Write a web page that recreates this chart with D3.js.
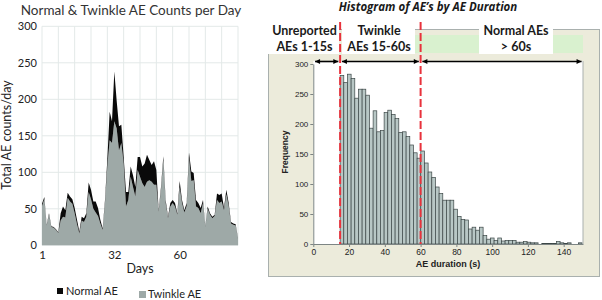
<!DOCTYPE html>
<html>
<head>
<meta charset="utf-8">
<script src="https://cdn.jsdelivr.net/npm/d3@7"></script>
<style>
  body { margin: 0; background: #fff; }
  svg { display: block; }
  .lato { font-family: Lato, "Open Sans", sans-serif; }
  .tah { font-family: "Liberation Sans", Arial, sans-serif; }
</style>
</head>
<body>
<div id="chart"></div>
<script>
// ---- left chart: daily counts ----
var days = d3.range(1, 86);
var totalCounts = [57, 66, 28, 44, 26, 25, 22, 18, 44, 53, 48, 72, 67, 63, 51, 35, 19, 39, 37, 44,
  86, 76, 60, 60, 51, 35, 23, 62, 118, 183, 170, 238, 198, 163, 165, 121, 73, 73, 108, 96,
  80, 121, 121, 108, 112, 124, 117, 110, 115, 103, 48, 80, 122, 62, 39, 58, 62, 58, 44, 88,
  62, 48, 58, 127, 101, 99, 62, 58, 51, 62, 26, 53, 44, 39, 42, 71, 69, 71, 51, 76,
  58, 32, 30, 29, 10];
var twinkleCounts = [54, 63, 27, 42, 25, 24, 21, 17, 34, 39, 38, 65, 60, 57, 44, 29, 16, 34, 32, 39,
  73, 63, 50, 45, 40, 30, 21, 58, 108, 144, 140, 170, 160, 130, 140, 112, 53, 62, 94, 80,
  67, 103, 94, 85, 80, 87, 89, 87, 83, 83, 46, 76, 117, 58, 37, 53, 58, 53, 42, 80,
  58, 45, 54, 120, 88, 89, 53, 51, 44, 58, 25, 50, 42, 37, 40, 62, 58, 60, 48, 70,
  54, 30, 28, 27, 9];
var dayTicks = [1, 32, 60];
var countTicks = [0, 50, 100, 150, 200, 250, 300];

// ---- right chart: histogram of durations ----
var binStart = 15, binWidth = 2.05;
var binCounts = [281, 269, 283, 276, 243, 258, 258, 248, 193, 222, 187, 189, 219, 223, 216, 209,
  186, 187, 179, 165, 152, 143, 155, 135, 120, 111, 95, 84, 73, 73, 73, 58, 46, 41, 40, 25,
  28, 23, 28, 14, 8, 10, 6, 10, 5, 6, 6, 6, 3, 3, 4, 3, 2, 2, 0, 1, 1, 1, 1, 4, 2, 1, 2, 0, 0, 2];
var durTicks = [0, 20, 40, 60, 80, 100, 120, 140];
var freqTicks = [0, 50, 100, 150, 200, 250, 300];
var cutoffs = [15, 60];

var svg = d3.select("#chart").append("svg")
    .attr("width", 602)
    .attr("height", 300);

/* left panel */
var data = days.map(function(d, i) {
  return { day: d, twinkle: twinkleCounts[i], normal: totalCounts[i] - twinkleCounts[i] };
});

var x = d3.scaleLinear().domain([1, 85]).range([42, 238]);
var y = d3.scaleLinear().domain([0, 300]).range([245.3, 26.3]);

var left = svg.append("g").attr("class", "lato");

// gridlines
left.append("g")
    .selectAll("line.h")
    .data(countTicks)
  .enter().append("line")
    .attr("x1", x(1)).attr("x2", x(85))
    .attr("y1", d => y(d)).attr("y2", d => y(d))
    .attr("stroke", "#e3e9e8").attr("stroke-width", 1);

left.append("g")
    .selectAll("line.v")
    .data(d3.range(1, 86, 7))
  .enter().append("line")
    .attr("x1", d => x(d)).attr("x2", d => x(d))
    .attr("y1", y(300)).attr("y2", y(0))
    .attr("stroke", "#e3e9e8").attr("stroke-width", 1);

var series = d3.stack().keys(["twinkle", "normal"])(data);
var area = d3.area()
    .x(d => x(d.data.day))
    .y0(d => y(d[0]))
    .y1(d => y(d[1]));

left.selectAll("path.area")
    .data(series)
  .enter().append("path")
    .attr("d", area)
    .attr("fill", (d, i) => i === 0 ? "#9ea9a7" : "#0a0a0a");

// axes
var yAxis = d3.axisLeft(y).tickValues(countTicks).tickSize(0).tickPadding(5);
left.append("g")
    .attr("transform", "translate(" + x(1) + ",0)")
    .call(yAxis)
    .call(g => g.select(".domain").remove())
    .selectAll("text")
    .attr("font-family", "Lato, sans-serif")
    .attr("font-size", 11)
    .attr("fill", "#222");

var xAxis = d3.axisBottom(x).tickValues(dayTicks).tickSize(0).tickPadding(6);
left.append("g")
    .attr("transform", "translate(0," + y(0) + ")")
    .call(xAxis)
    .call(g => g.select(".domain").remove())
    .selectAll("text")
    .attr("font-family", "Lato, sans-serif")
    .attr("font-size", 11.5)
    .attr("fill", "#222");

left.append("text")
    .attr("x", 131).attr("y", 15)
    .attr("text-anchor", "middle")
    .attr("font-size", 13.5)
    .attr("fill", "#333")
    .text("Normal & Twinkle AE Counts per Day");

left.append("text")
    .attr("transform", "translate(11,135) rotate(-90)")
    .attr("text-anchor", "middle")
    .attr("font-size", 12.5)
    .attr("fill", "#222")
    .text("Total AE counts/day");

left.append("text")
    .attr("x", 140).attr("y", 273)
    .attr("text-anchor", "middle")
    .attr("font-size", 12.5)
    .attr("fill", "#222")
    .text("Days");

// legend
left.append("rect").attr("x", 57).attr("y", 288).attr("width", 6).attr("height", 6).attr("fill", "#0a0a0a");
left.append("text").attr("x", 66).attr("y", 295).attr("font-size", 11).attr("fill", "#222").text("Normal AE");
left.append("rect").attr("x", 139).attr("y", 291).attr("width", 7).attr("height", 7).attr("fill", "#9ea9a7");
left.append("text").attr("x", 148).attr("y", 298).attr("font-size", 11).attr("fill", "#222").text("Twinkle AE");

/* right panel */
var hx = d3.scaleLinear().domain([0, 150.8]).range([313.3, 583]);
var hy = d3.scaleLinear().domain([0, 300]).range([244, 64]);

var right = svg.append("g");

right.append("rect")
    .attr("x", 268.5).attr("y", 29.5).attr("width", 331).attr("height", 247)
    .attr("fill", "#ecebdb").attr("stroke", "#a9b0ae");

// label boxes
right.append("rect").attr("x", 262).attr("y", 16).attr("width", 77).attr("height", 38).attr("fill", "#fff");
right.append("rect").attr("x", 342).attr("y", 16).attr("width", 73).attr("height", 38).attr("fill", "#fff");
right.append("rect").attr("x", 415).attr("y", 35).attr("width", 168).attr("height", 18).attr("fill", "#d9f1cf");
right.append("rect").attr("x", 479).attr("y", 22).attr("width", 74).attr("height", 32).attr("fill", "#fff");

// plot area
right.append("rect")
    .attr("x", hx(0)).attr("y", 61)
    .attr("width", 583 - hx(0)).attr("height", hy(0) - 61)
    .attr("fill", "#fff");

right.append("g")
    .selectAll("rect.bar")
    .data(binCounts)
  .enter().append("rect")
    .attr("x", (d, i) => hx(binStart + i * binWidth))
    .attr("y", d => hy(d))
    .attr("width", (d, i) => hx(binStart + (i + 1) * binWidth) - hx(binStart + i * binWidth))
    .attr("height", d => hy(0) - hy(d))
    .attr("fill", "#b8c7c5")
    .attr("stroke", "#3b4646")
    .attr("stroke-width", 0.7);

// plot frame
right.append("line").attr("x1", 583).attr("x2", 583).attr("y1", 61).attr("y2", hy(0)).attr("stroke", "#a9b0ae");

var hxAxis = d3.axisBottom(hx).tickValues(durTicks).tickSize(3).tickPadding(2).tickSizeOuter(0);
right.append("g")
    .attr("transform", "translate(0," + hy(0) + ")")
    .call(hxAxis)
    .call(g => g.select(".domain").attr("stroke", "#7d8584"))
    .call(g => g.selectAll(".tick line").attr("stroke", "#7d8584"))
    .selectAll("text")
    .attr("font-family", "Liberation Sans, Arial, sans-serif")
    .attr("font-size", 8.5)
    .attr("fill", "#222");

var hyAxis = d3.axisLeft(hy).tickValues(freqTicks).tickSize(3).tickPadding(2).tickSizeOuter(0);
right.append("g")
    .attr("transform", "translate(" + hx(0) + ",0)")
    .call(hyAxis)
    .call(g => g.select(".domain").attr("stroke", "#7d8584"))
    .call(g => g.selectAll(".tick line").attr("stroke", "#7d8584"))
    .selectAll("text")
    .attr("font-family", "Liberation Sans, Arial, sans-serif")
    .attr("font-size", 8)
    .attr("fill", "#222");

right.append("text")
    .attr("x", 448).attr("y", 267)
    .attr("text-anchor", "middle")
    .attr("font-family", "Liberation Sans, Arial, sans-serif")
    .attr("font-weight", "bold")
    .attr("font-size", 9)
    .attr("fill", "#222")
    .text("AE duration (s)");

right.append("text")
    .attr("transform", "translate(288,152) rotate(-90)")
    .attr("text-anchor", "middle")
    .attr("font-family", "Liberation Sans, Arial, sans-serif")
    .attr("font-weight", "bold")
    .attr("font-size", 8.5)
    .attr("fill", "#222")
    .text("Frequency");

// cutoff lines
right.selectAll("line.cut")
    .data(cutoffs)
  .enter().append("line")
    .attr("x1", d => hx(d)).attr("x2", d => hx(d))
    .attr("y1", 22).attr("y2", hy(0))
    .attr("stroke", "#e8323c")
    .attr("stroke-width", 2)
    .attr("stroke-dasharray", "8,3");

// range arrows
var defs = svg.append("defs");
defs.append("marker")
    .attr("id", "ah")
    .attr("viewBox", "0 0 10 10")
    .attr("refX", 10).attr("refY", 5)
    .attr("markerWidth", 7).attr("markerHeight", 5)
    .attr("markerUnits", "userSpaceOnUse")
    .attr("orient", "auto-start-reverse")
  .append("path")
    .attr("d", "M0,0L10,5L0,10Z")
    .attr("fill", "#000");

var ranges = [[1, 14], [16, 59], [61, 150]];
right.selectAll("line.rng")
    .data(ranges)
  .enter().append("line")
    .attr("x1", d => hx(d[0])).attr("x2", d => hx(d[1]))
    .attr("y1", 61.5).attr("y2", 61.5)
    .attr("stroke", "#000")
    .attr("stroke-width", 1.6)
    .attr("marker-start", "url(#ah)")
    .attr("marker-end", "url(#ah)");

var labels = [
  { cx: 304.5, lines: ["Unreported", "AEs 1-15s"] },
  { cx: 379, lines: ["Twinkle", "AEs 15-60s"] },
  { cx: 516, lines: ["Normal AEs", "> 60s"] }
];
labels.forEach(function(l) {
  l.lines.forEach(function(t, j) {
    right.append("text")
        .attr("class", "lato")
        .attr("x", l.cx).attr("y", 34.5 + j * 16)
        .attr("text-anchor", "middle")
        .attr("font-weight", "bold")
        .attr("font-size", 12.5)
        .attr("fill", "#1a1a1a")
        .text(t);
  });
});

right.append("text")
    .attr("x", 428).attr("y", 10.5)
    .attr("text-anchor", "middle")
    .attr("font-family", "'Open Sans', sans-serif")
    .attr("font-weight", "bold")
    .attr("font-style", "italic")
    .attr("font-size", 11.5)
    .attr("fill", "#1a1a1a")
    .text("Histogram of AE\u2019s by AE Duration");
</script>
</body>
</html>
